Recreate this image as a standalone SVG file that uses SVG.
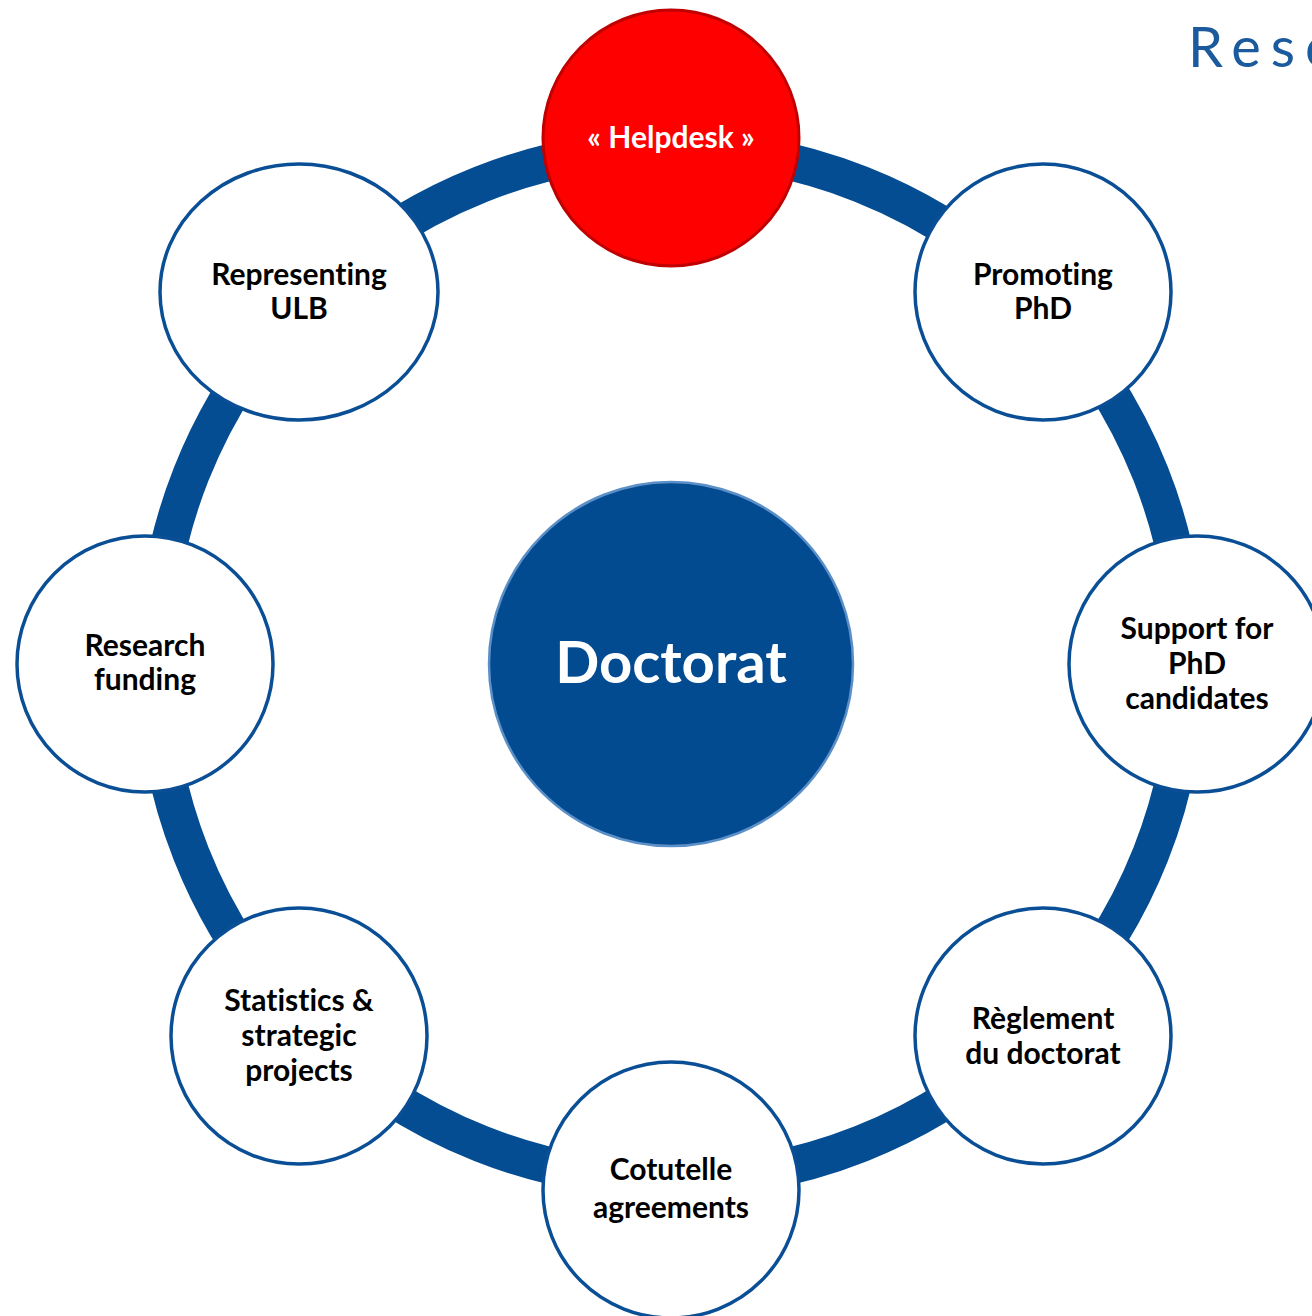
<svg xmlns="http://www.w3.org/2000/svg" width="1312" height="1316" viewBox="0 0 1312 1316">
<style>
.ring{fill:none;stroke:#044d92;stroke-width:37}
.node{fill:#ffffff;stroke:#0a4f95;stroke-width:3.5}
.red{fill:#ff0000;stroke:#c00000;stroke-width:3}
.center{fill:#034b91;stroke:#5b8fc7;stroke-width:2.5}
.lbl{font-family:Lato,"Liberation Sans",sans-serif;font-weight:bold;font-size:30px;fill:#000;text-anchor:middle;font-variant-ligatures:none}
.wl{fill:#ffffff}
.big{font-family:Lato,"Liberation Sans",sans-serif;font-weight:bold;font-size:58px;fill:#ffffff;text-anchor:middle}
.title{font-family:Lato,"Liberation Sans",sans-serif;font-size:56px;fill:#1b5a9c;letter-spacing:10px}
</style>
<rect width="1312" height="1316" fill="#ffffff"/>
<text class="title" x="1188" y="67">Reso</text>
<g id="connectors">
<circle class="ring" cx="671" cy="664" r="516"/>
</g>
<g id="center">
<circle class="center" cx="671" cy="664" r="182"/>
<text class="big" x="671" y="683">Doctorat</text>
</g>
<g id="helpdesk">
<circle class="red" cx="671" cy="138" r="128"/>
<text class="lbl wl" x="671" y="148">« Helpdesk »</text>
</g>
<g id="promoting">
<circle class="node" cx="1043" cy="292" r="128"/>
<text class="lbl" x="1043" y="285">Promoting</text>
<text class="lbl" x="1043" y="319">PhD</text>
</g>
<g id="support">
<circle class="node" cx="1197" cy="664" r="128"/>
<text class="lbl" x="1197" y="639">Support for</text>
<text class="lbl" x="1197" y="674">PhD</text>
<text class="lbl" x="1197" y="709">candidates</text>
</g>
<g id="reglement">
<circle class="node" cx="1043" cy="1036" r="128"/>
<text class="lbl" x="1043" y="1029">Règlement</text>
<text class="lbl" x="1043" y="1064">du doctorat</text>
</g>
<g id="cotutelle">
<circle class="node" cx="671" cy="1190" r="128"/>
<text class="lbl" x="671" y="1180">Cotutelle</text>
<text class="lbl" x="671" y="1218">agreements</text>
</g>
<g id="statistics">
<circle class="node" cx="299" cy="1036" r="128"/>
<text class="lbl" x="299" y="1011">Statistics &amp;</text>
<text class="lbl" x="299" y="1046">strategic</text>
<text class="lbl" x="299" y="1081">projects</text>
</g>
<g id="research">
<circle class="node" cx="145" cy="664" r="128"/>
<text class="lbl" x="145" y="656">Research</text>
<text class="lbl" x="145" y="690">funding</text>
</g>
<g id="representing">
<ellipse class="node" cx="299" cy="292" rx="139" ry="128"/>
<text class="lbl" x="299" y="285">Representing</text>
<text class="lbl" x="299" y="319">ULB</text>
</g>
</svg>
